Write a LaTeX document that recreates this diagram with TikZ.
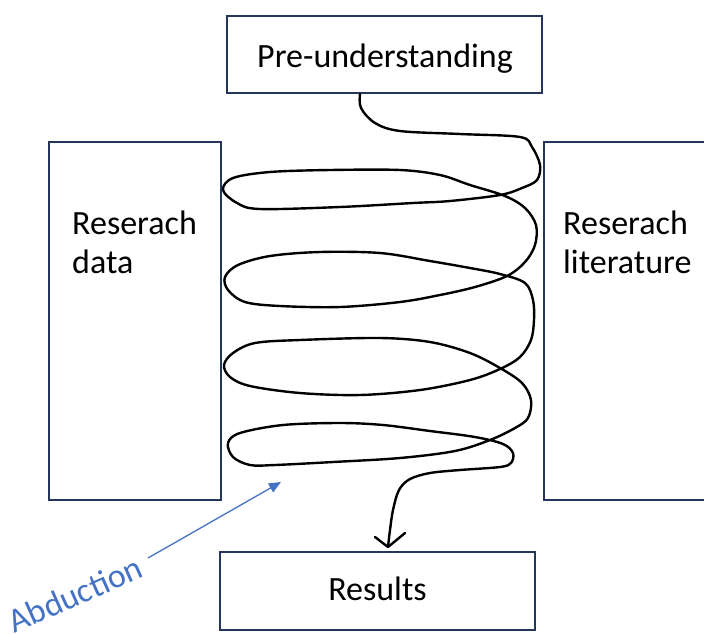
\documentclass[tikz,border=0pt]{standalone}
\usepackage{fontspec}
\setmainfont{Carlito}
\usetikzlibrary{arrows.meta}
\definecolor{boxline}{RGB}{38,54,90}
\definecolor{abdblue}{RGB}{68,114,196}
\begin{document}
\begin{tikzpicture}[x=1pt,y=-1pt,
  box/.style={draw=boxline, line width=2pt, fill=white, inner sep=0pt},
  boxtext/.style={font=\fontsize{34}{39}\selectfont, inner sep=0pt},
  spiral/.style={line width=2.4pt, line join=round, line cap=round},
]
\clip (0,0) rectangle (704,633);
\fill[white] (0,0) rectangle (704,633);

% boxes
\node[box, minimum width=315pt, minimum height=77pt] (pre)  at (384.5,54.5) {};
\node[box, minimum width=172pt, minimum height=358pt] (data) at (135,321) {};
\node[box, minimum width=216pt, minimum height=358pt] (lit)  at (652,321) {};
\node[box, minimum width=315pt, minimum height=78pt] (res)  at (377.5,591) {};

% box texts
\node[boxtext, anchor=base] (pretext) at (385,67) {Pre-understanding};
\node[boxtext, anchor=base] (restext) at (377.5,600) {Results};
\node[boxtext, anchor=base west] (datatext) at (72,234)
  {\begin{tabular}[t]{@{}l@{}}Reserach\\data\end{tabular}};
\node[boxtext, anchor=base west] (littext) at (563,234)
  {\begin{tabular}[t]{@{}l@{}}Reserach\\literature\end{tabular}};

% the hand-drawn spiral from pre-understanding down to the results
\coordinate (s0) at ([xshift=-24.5pt]pre.south);
\coordinate (tip) at ([xshift=10.5pt,yshift=4pt]res.north);
\draw[spiral] plot[smooth, tension=0.55] coordinates {
  (s0) (361,108) (375,123) (400,131) (460,134) (520,137) (532,147) (540,165)
  (537,180) (522,188) (500,195) (450,201) (413,203) (340,207) (260,209)
  (237,203) (223,190) (233,178) (270,172) (330,170) (400,170) (440,175)
  (470,185) (505,196) (525,208) (536,225) (535,245) (525,262) (507,276)
  (475,287) (440,295) (400,302) (340,307) (280,306) (245,302) (228,290)
  (225,277) (238,265) (270,256) (320,252) (380,253) (430,261) (470,268)
  (500,274) (525,283) (533,300) (534,320) (531,340) (520,357) (500,369)
  (470,380) (420,390) (360,395) (300,393) (250,386) (230,377) (224,365)
  (233,353) (255,343) (300,340) (380,338) (430,342) (470,353) (500,368)
  (522,383) (531,400) (528,418) (515,428) (490,440) (455,451) (400,458)
  (333,462) (275,465) (250,465) (233,457) (228,443) (240,433) (283,425)
  (340,423) (383,425) (430,431) (475,437) (503,444) (513,453) (511,463)
  (500,467) (460,470) (430,473) (410,479) (399,490) (393,510) (390,530)
  (tip)};
\draw[spiral] (tip) ++(-13,-10) -- (tip) -- ++(17,-14);

% abduction label and its arrow
\node[font=\fontsize{34}{40}\selectfont, text=abdblue, rotate=24,
      anchor=base, inner sep=0pt] (abd) at (80,605) {Abduction};
\coordinate (abdfrom) at (148,558);
\coordinate (abdto) at (281,482);
\draw[abdblue, line width=1.3pt, -{Triangle[length=12pt,width=10pt]}]
  (abdfrom) -- (abdto);
\end{tikzpicture}
\end{document}
